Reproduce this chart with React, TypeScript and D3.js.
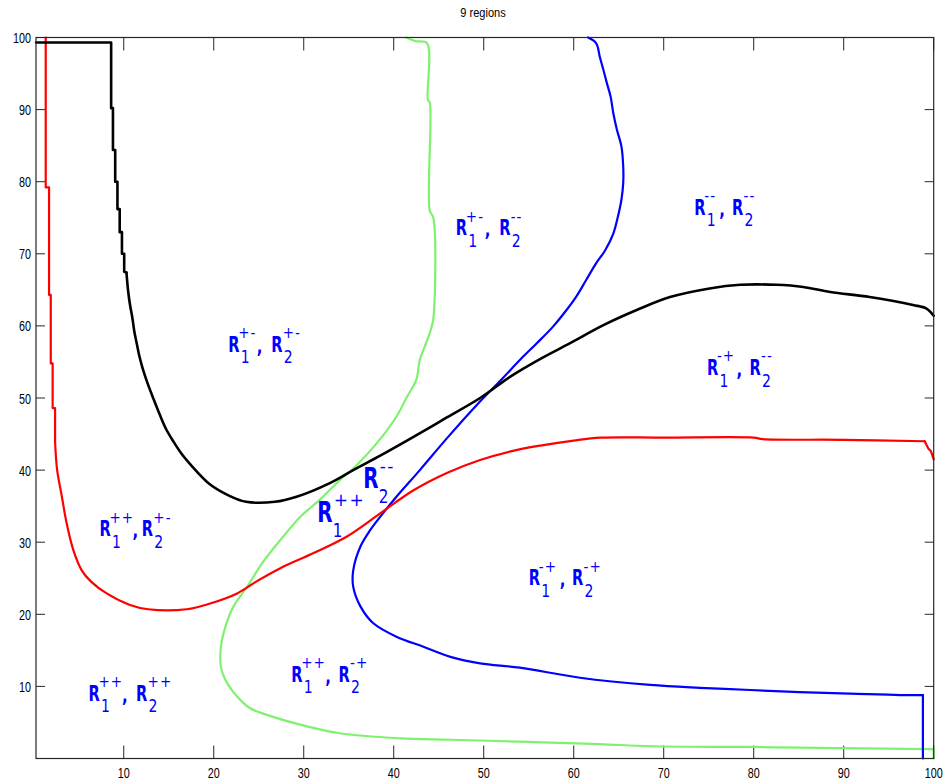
import React from 'react';
import * as d3 from 'd3';

// ---------- data ----------
const chartTitle = '9 regions';
const xTickValues = [10, 20, 30, 40, 50, 60, 70, 80, 90, 100];
const yTickValues = [10, 20, 30, 40, 50, 60, 70, 80, 90, 100];

// black boundary: staircase head + smooth body
const blackSteps: [number, number][] = [
  [0.25, 99.3], [8.6, 99.3], [8.6, 90.2], [8.8, 90.2], [8.8, 84.4], [9.05, 84.4], [9.05, 80], [9.3, 80],
  [9.3, 76.2], [9.55, 76.2], [9.55, 73], [9.8, 73], [9.8, 70], [10.05, 70], [10.05, 67.5], [10.3, 67.4],
];
const blackSmooth: [number, number][] = [
  [10.3, 67.4], [10.5, 64.7], [10.7, 62.9], [10.96, 61.1], [11.18, 59.2], [11.44, 57.6], [11.7, 56.0],
  [12.1, 54.1], [12.6, 52.2], [13.3, 49.9], [14.0, 47.7], [14.7, 45.7], [15.5, 44.0], [16.4, 42.3],
  [17.4, 40.8], [19.6, 38.0], [21.8, 36.4], [23.6, 35.6], [26.8, 35.6], [29.2, 36.3], [32.9, 38.2],
  [35.5, 40.0], [38.5, 42.0], [42.2, 44.6], [45.9, 47.3], [49.6, 50.0], [53, 53], [56.4, 55.5],
  [59.6, 57.6], [63.3, 60.1], [67, 62.2], [70.7, 64], [75.1, 65.2], [78.5, 65.7], [82.5, 65.7],
  [85.5, 65.4], [88.5, 64.7], [92.9, 64], [97.7, 62.9], [99.2, 62.4], [100, 61.4],
];

// red boundary
const redSteps: [number, number][] = [
  [1.33, 100], [1.33, 79.2], [1.7, 79.2], [1.7, 64.3], [1.89, 64.3], [1.89, 54.8], [2.1, 54.8], [2.1, 48.6],
  [2.37, 48.6], [2.37, 43.9],
];
const redSmooth: [number, number][] = [
  [2.37, 43.9], [2.6, 40], [3.1, 36.5], [3.66, 32.6], [4.4, 28.9], [5.33, 26.1], [6.4, 24.5],
  [8.1, 22.9], [10.7, 21.3], [12.7, 20.7], [17, 20.7], [19.6, 21.5], [22.6, 22.9], [24.8, 24.6],
  [27.4, 26.4], [31.1, 28.5], [34.8, 30.8], [38.5, 34], [42.2, 37.2], [45.9, 39.6], [49.6, 41.4],
  [53, 42.6], [56.3, 43.4], [60, 44.1], [63, 44.5], [70, 44.5], [80, 44.5], [81, 44.3], [90, 44.2],
  [99, 44.0],
];
const redEnd: [number, number][] = [[99, 44.0], [99.4, 43.0], [99.7, 42.6], [100, 41.5]];

// green boundary
const greenCurve: [number, number][] = [
  [41.4, 100], [42.4, 99.5], [43.7, 99.2], [43.8, 91.3], [44.0, 91], [44.0, 76], [44.4, 75], [44.4, 61],
  [44.1, 59.4], [43.5, 57.3], [42.9, 55.3], [42.5, 52.5], [41.4, 50], [40.3, 47.4], [38.1, 43.7],
  [35.9, 40.7], [34, 38.6], [31.8, 35.9], [29.6, 33.5], [27.4, 30.3], [25.5, 27.3], [23.7, 23.8],
  [22.2, 21.1], [21.3, 18.3], [20.8, 15.5], [20.8, 12.7], [21.3, 10.9], [22.6, 8.6], [24, 7], [25.1, 6.4],
  [29.6, 4.7], [34, 3.5], [40.7, 2.8], [46.3, 2.6], [55.2, 2.3], [62.9, 2], [68.5, 1.7], [79.6, 1.6],
  [85.1, 1.5], [99.8, 1.3],
];
const greenDrop: [number, number][] = [[99.8, 1.3], [100, 1.2], [100, 0]];

// blue boundary
const blueCurve: [number, number][] = [
  [61.6, 100], [62.5, 99.2], [62.9, 97.3], [63.3, 95.5], [63.7, 93.6], [64.1, 91.8], [64.4, 89.5],
  [64.8, 87.2], [65.3, 84.9], [65.5, 82.1], [65.5, 79.8], [65.3, 77.5], [64.9, 75.1], [64.4, 72.8],
  [63.5, 70.5], [62.5, 68.7], [61.4, 66.4], [60.3, 64.1], [59.2, 62.2], [57.7, 59.9], [55.9, 57.6],
  [54.2, 55.5], [52, 52.6], [49.2, 49], [45.9, 44.4], [42.9, 40], [40.3, 36.3], [38.8, 34], [37.4, 31.7],
  [36.3, 29.4], [35.5, 26.1], [35.5, 23.8], [36.3, 21.1], [37.7, 18.8], [40.3, 16.9], [43.3, 15.5],
  [46.3, 14.1], [49.6, 13.2], [54, 12.6], [60.7, 11.2], [68.5, 10.2], [74, 9.8], [79.6, 9.5], [85.1, 9.2],
  [90.7, 9.0], [96.3, 8.8], [98.8, 8.8],
];
const blueDrop: [number, number][] = [[98.8, 8.8], [98.8, 0]];

// region labels  R1^sup1 , R2^sup2
const labelX = [21.6, 46.9, 73.4, 74.8, 7.3, 55, 28.6, 6.07];
const labelY = [56.4, 72.6, 75.4, 53.2, 30.8, 24, 10.65, 8.0];
const labelSup1 = ['+-', '+-', '--', '-+', '++', '-+', '++', '++'];
const labelSup2 = ['+-', '--', '--', '--', '+-', '-+', '-+', '++'];
const commaOffset = [28.5, 29, 25, 29.5, 33, 31, 34, 33.5];
const secondROffset = [43, 43.3, 37.7, 42.7, 42.4, 43.3, 47.3, 47.7];

// the two large labels near the crossing
const bigLabelX = [31.5, 36.6];
const bigLabelY = [32.8, 37.5];
const bigLabelSub = ['1', '2'];
const bigLabelSup = ['++', '--'];

// ---------- layout ----------
const W = 943;
const H = 782;
const x = d3.scaleLinear().domain([0.25, 100]).range([36, 933.7]);
const y = d3.scaleLinear().domain([0, 100]).range([758.5, 37.5]);

const LBL = '#0000ff';
const FONT = 'DejaVu Sans, sans-serif';
const AXFONT = 'Liberation Sans, Arial, sans-serif';

function SText(props: {
  x: number; y: number; sx: number; size: number; weight?: string | number; spacing?: number;
  fill?: string; anchor?: string; family?: string; children: React.ReactNode;
}) {
  return (
    <text
      transform={`translate(${props.x},${props.y}) scale(${props.sx},1)`}
      fontSize={props.size}
      fontWeight={props.weight ?? 'normal'}
      fill={props.fill ?? '#000'}
      textAnchor={props.anchor ?? 'start'}
      fontFamily={props.family ?? FONT}
      letterSpacing={props.spacing ?? 0}
    >
      {props.children}
    </text>
  );
}

function RLabel({ px, py, sup1, sup2, comma, r2 }: { px: number; py: number; sup1: string; sup2: string; comma: number; r2: number }) {
  return (
    <g>
      <SText x={px} y={py} sx={0.68} size={21.5} weight="bold" fill={LBL}>R</SText>
      <SText x={px + 12.5} y={py + 11.6} sx={0.8} size={17.5} fill={LBL}>1</SText>
      <SText x={px + 10} y={py - 13.5} sx={0.9} size={15} spacing={1.2} fill={LBL}>{sup1}</SText>
      <SText x={px + comma} y={py + 1} sx={0.75} size={20} weight="bold" fill={LBL}>,</SText>
      <SText x={px + r2} y={py} sx={0.68} size={21.5} weight="bold" fill={LBL}>R</SText>
      <SText x={px + r2 + 12.5} y={py + 11.6} sx={0.8} size={17.5} fill={LBL}>2</SText>
      <SText x={px + r2 + 11.5} y={py - 13.5} sx={0.9} size={15} spacing={1.2} fill={LBL}>{sup2}</SText>
    </g>
  );
}

function BigLabel({ px, py, sub, sup }: { px: number; py: number; sub: string; sup: string }) {
  return (
    <g>
      <SText x={px} y={py} sx={0.72} size={27.5} weight="bold" fill={LBL}>R</SText>
      <SText x={px + 15.5} y={py + 15} sx={0.8} size={19} fill={LBL}>{sub}</SText>
      <SText x={px + 16.5} y={py - 16} sx={0.95} size={18} spacing={1.5} fill={LBL}>{sup}</SText>
    </g>
  );
}

export default function App() {
  const straight = d3.line<[number, number]>().x((d) => x(d[0])).y((d) => y(d[1]));
  const smooth = d3
    .line<[number, number]>()
    .x((d) => x(d[0]))
    .y((d) => y(d[1]))
    .curve(d3.curveCatmullRom.alpha(0.5));
  const x0 = x.range()[0];
  const x1 = x.range()[1];
  const y0 = y.range()[0];
  const y1 = y.range()[1];
  const axisColor = '#262626';

  return (
    <svg width={W} height={H} style={{ position: 'absolute', left: 0, top: 0, background: '#fff' }}>
      <rect x={0} y={0} width={W} height={H} fill="#fff" />
      <SText x={483} y={17} sx={0.85} size={13} anchor="middle" family={AXFONT}>{chartTitle}</SText>

      {/* ticks */}
      {xTickValues.map((t) => (
        <g key={'xt' + t}>
          <line x1={x(t)} x2={x(t)} y1={y0} y2={y0 - 13} stroke={axisColor} strokeWidth={1} />
          <line x1={x(t)} x2={x(t)} y1={y1} y2={y1 + 13} stroke={axisColor} strokeWidth={1} />
          <SText x={x(t)} y={778} sx={0.72} size={15} anchor="middle" family={AXFONT}>{t}</SText>
        </g>
      ))}
      {yTickValues.map((t) => (
        <g key={'yt' + t}>
          <line x1={x0} x2={x0 + 9} y1={y(t)} y2={y(t)} stroke={axisColor} strokeWidth={1} />
          <line x1={x1} x2={x1 - 9} y1={y(t)} y2={y(t)} stroke={axisColor} strokeWidth={1} />
          <SText x={31} y={y(t) + 5.5} sx={0.72} size={15} anchor="end" family={AXFONT}>{t}</SText>
        </g>
      ))}

      {/* curves */}
      <g fill="none" strokeLinejoin="round" strokeLinecap="round">
        <path d={smooth(greenCurve) ?? ''} stroke="#80f070" strokeWidth={2.2} />
        <path d={straight(greenDrop) ?? ''} stroke="#80f070" strokeWidth={2.2} />
        <path d={smooth(blueCurve) ?? ''} stroke="#0000ff" strokeWidth={2.2} />
        <path d={straight(blueDrop) ?? ''} stroke="#0000ff" strokeWidth={2.2} />
        <path d={straight(redSteps) ?? ''} stroke="#ff0000" strokeWidth={2.2} />
        <path d={smooth(redSmooth) ?? ''} stroke="#ff0000" strokeWidth={2.2} />
        <path d={straight(redEnd) ?? ''} stroke="#ff0000" strokeWidth={2.2} />
        <path d={straight(blackSteps) ?? ''} stroke="#000000" strokeWidth={2.6} />
        <path d={smooth(blackSmooth) ?? ''} stroke="#000000" strokeWidth={2.6} />
      </g>

      {/* frame */}
      <rect x={x0} y={y1} width={x1 - x0} height={y0 - y1} fill="none" stroke={axisColor} strokeWidth={1.2} />

      {/* labels */}
      {labelX.map((lx, i) => (
        <RLabel key={'lb' + i} px={x(lx)} py={y(labelY[i])} sup1={labelSup1[i]} sup2={labelSup2[i]}
          comma={commaOffset[i]} r2={secondROffset[i]} />
      ))}
      {bigLabelX.map((bx, i) => (
        <BigLabel key={'bl' + i} px={x(bx)} py={y(bigLabelY[i])} sub={bigLabelSub[i]} sup={bigLabelSup[i]} />
      ))}
    </svg>
  );
}
